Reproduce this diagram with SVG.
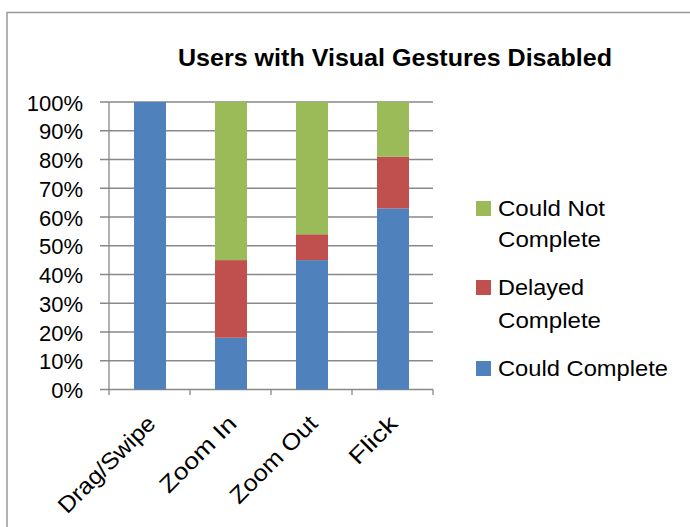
<svg xmlns="http://www.w3.org/2000/svg" width="690" height="527" viewBox="0 0 690 527">
<style>
text{font-family:"Liberation Sans",Arial,sans-serif;fill:#000}
.title{font-size:24px;font-weight:bold;text-anchor:middle}
.ylab{font-size:22px;text-anchor:end}
.xlab{font-size:23px;text-anchor:end}
.leg{font-size:22px}
.grid{stroke:#888;stroke-width:1.3;fill:none}
.blue{fill:#4F81BD}
.red{fill:#C0504D}
.green{fill:#9BBB59}
</style>
<rect x="0" y="0" width="690" height="527" fill="#fff"/>
<path d="M7,527 V12.5 H690" fill="none" stroke="#999" stroke-width="1.5"/>
<text class="title" x="395" y="65.5" textLength="434" lengthAdjust="spacingAndGlyphs">Users with Visual Gestures Disabled</text>
<g id="grid" class="grid">
<path d="M100,102H433M100,130.75H433M100,159.5H433M100,188.25H433M100,217H433M100,245.75H433M100,274.5H433M100,303.25H433M100,332H433M100,360.75H433M100,389.5H433"/>
<path d="M109,102V395M190,389.5V395M271,389.5V395M352,389.5V395M433,389.5V395"/>
</g>
<g id="yaxis-labels">
<text class="ylab" x="83" y="110.5">100%</text>
<text class="ylab" x="83" y="139.25">90%</text>
<text class="ylab" x="83" y="168">80%</text>
<text class="ylab" x="83" y="196.75">70%</text>
<text class="ylab" x="83" y="225.5">60%</text>
<text class="ylab" x="83" y="254.25">50%</text>
<text class="ylab" x="83" y="283">40%</text>
<text class="ylab" x="83" y="311.75">30%</text>
<text class="ylab" x="83" y="340.5">20%</text>
<text class="ylab" x="83" y="369.25">10%</text>
<text class="ylab" x="83" y="398">0%</text>
</g>
<g id="bar-dragswipe">
<rect class="blue" x="134" y="102" width="32" height="287.5"/>
</g>
<g id="bar-zoomin">
<rect class="blue" x="215" y="337.75" width="32" height="51.75"/>
<rect class="red" x="215" y="260.1" width="32" height="77.65"/>
<rect class="green" x="215" y="102" width="32" height="158.1"/>
</g>
<g id="bar-zoomout">
<rect class="blue" x="296" y="260.1" width="32" height="129.4"/>
<rect class="red" x="296" y="234.25" width="32" height="25.85"/>
<rect class="green" x="296" y="102" width="32" height="132.25"/>
</g>
<g id="bar-flick">
<rect class="blue" x="377" y="208.4" width="32" height="181.1"/>
<rect class="red" x="377" y="156.6" width="32" height="51.8"/>
<rect class="green" x="377" y="102" width="32" height="54.6"/>
</g>
<g id="xaxis-labels">
<text class="xlab" transform="translate(157,425) rotate(-45)" textLength="127" lengthAdjust="spacingAndGlyphs">Drag/Swipe</text>
<text class="xlab" transform="translate(238,425) rotate(-45)" textLength="98" lengthAdjust="spacingAndGlyphs">Zoom In</text>
<text class="xlab" transform="translate(319,425) rotate(-45)" textLength="113" lengthAdjust="spacingAndGlyphs">Zoom Out</text>
<text class="xlab" transform="translate(399,425) rotate(-45)" textLength="58" lengthAdjust="spacingAndGlyphs">Flick</text>
</g>
<g id="legend">
<rect class="green" x="476" y="201" width="15" height="15"/>
<text class="leg" x="498" y="216" textLength="107" lengthAdjust="spacingAndGlyphs">Could Not</text>
<text class="leg" x="498" y="247" textLength="103" lengthAdjust="spacingAndGlyphs">Complete</text>
<rect class="red" x="476" y="280" width="15" height="15"/>
<text class="leg" x="498" y="295" textLength="86" lengthAdjust="spacingAndGlyphs">Delayed</text>
<text class="leg" x="498" y="328" textLength="103" lengthAdjust="spacingAndGlyphs">Complete</text>
<rect class="blue" x="476" y="361" width="15" height="15"/>
<text class="leg" x="498" y="376" textLength="170" lengthAdjust="spacingAndGlyphs">Could Complete</text>
</g>
</svg>
